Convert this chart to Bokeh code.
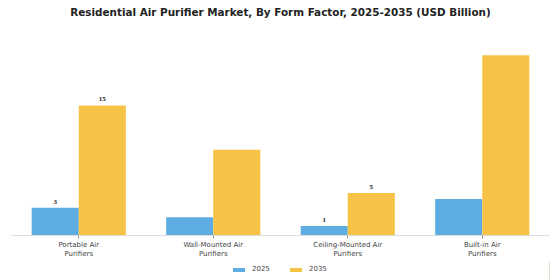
from bokeh.plotting import figure
from bokeh.models import FactorRange, ColumnDataSource, Legend, LegendItem, LabelSet
from bokeh.core.properties import value
from bokeh.transform import dodge
from bokeh.layouts import column
from bokeh.embed import file_html
from bokeh.resources import INLINE

categories = ["Portable Air\nPurifiers", "Wall-Mounted Air\nPurifiers", "Ceiling-Mounted Air\nPurifiers", "Built-in Air\nPurifiers"]
series_names = ["2025", "2035"]
values_2025 = [3.2, 2.1, 1.1, 4.2]
values_2035 = [15.0, 9.9, 4.9, 20.8]
labels_2025 = ["3", "", "1", ""]
labels_2035 = ["15", "", "5", ""]
title_text = "Residential Air Purifier Market, By Form Factor, 2025-2035 (USD Billion)"

src = ColumnDataSource(dict(cat=categories, v25=values_2025, v35=values_2035, l25=labels_2025, l35=labels_2035))

# title strip
p0 = figure(width=560, height=22, output_backend="svg", toolbar_location=None,
            min_border=0, x_range=(0, 1), y_range=(0, 1))
p0.axis.visible = False
p0.grid.visible = False
p0.outline_line_color = None
p0.text(x=[0.5], y=[0.5], text=[title_text], text_align="center", text_baseline="middle",
        text_font=value("DejaVu Sans"), text_font_size="10.4px", text_font_style="bold", text_color="#222222")

p = figure(frame_width=538, frame_height=205, x_range=FactorRange(*categories, range_padding=0),
           y_range=(0, 23.65), output_backend="svg", toolbar_location=None, title=None,
           min_border_left=11, min_border_right=11, min_border_top=8, min_border_bottom=0)

c1 = "#5DADE2"
c2 = "#F7C346"
r1 = p.vbar(x=dodge("cat", -0.175, range=p.x_range), top="v25", width=0.35, source=src, color=c1, line_color=None)
r2 = p.vbar(x=dodge("cat", 0.175, range=p.x_range), top="v35", width=0.35, source=src, color=c2, line_color=None)

for col, off, lab in [("v25", -0.175, "l25"), ("v35", 0.175, "l35")]:
    ls = LabelSet(x=dodge("cat", off, range=p.x_range), y=col, text=lab, source=src,
                  text_align="center", text_baseline="bottom", y_offset=4,
                  text_font="DejaVu Sans", text_font_size="7px", text_font_style="bold", text_color="#222222")
    p.add_layout(ls)

p.yaxis.visible = False
p.xgrid.visible = False
p.ygrid.visible = False
p.outline_line_color = None
p.xaxis.axis_line_color = "#dddddd"
p.xaxis.major_tick_line_color = "#999999"
p.xaxis.major_tick_in = 0
p.xaxis.major_tick_out = 3
p.xaxis.minor_tick_line_color = None
p.xaxis.major_label_text_font = "DejaVu Sans"
p.xaxis.major_label_text_font_size = "7px"
p.xaxis.major_label_text_color = "#444444"
p.xaxis.major_label_standoff = 2

# legend strip (swatch renderers sit outside the visible range)
p2 = figure(width=560, height=20, output_backend="svg", toolbar_location=None,
            min_border=0, x_range=(0, 1), y_range=(0, 1))
p2.axis.visible = False
p2.grid.visible = False
p2.outline_line_color = None
d1 = p2.vbar(x=[5], top=[1], width=0.1, color=c1, line_color=None)
d2 = p2.vbar(x=[5], top=[1], width=0.1, color=c2, line_color=None)
legend = Legend(items=[LegendItem(label=series_names[0], renderers=[d1]), LegendItem(label=series_names[1], renderers=[d2])],
                orientation="horizontal", location="top_center", border_line_color=None,
                background_fill_alpha=0,
                label_text_font="DejaVu Sans", label_text_font_size="7px", label_text_color="#444444",
                glyph_width=15, glyph_height=5, label_height=6, spacing=16, padding=0, margin=4,
                label_standoff=6)
p2.add_layout(legend)

open("out.html", "w").write(file_html(column(p0, p, p2, spacing=0), INLINE))
